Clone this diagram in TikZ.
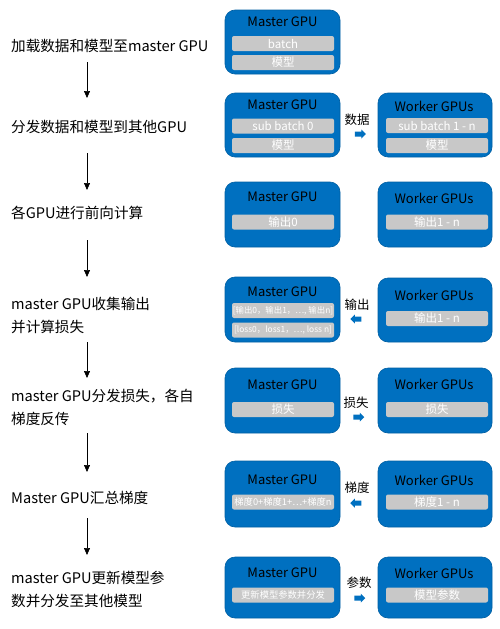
\documentclass[tikz,border=0pt]{standalone}
\usepackage{fontspec}
\setmainfont{Noto Sans CJK SC}
\usetikzlibrary{arrows.meta,shapes.arrows}
\definecolor{blueM}{HTML}{0070C0}
\definecolor{barG}{HTML}{C8C8C8}
\tikzset{
  gpu/.style={draw=blueM!85!black, line width=0.6pt, fill=blueM, rounded corners=10pt, minimum width=115pt, inner sep=0},
  gtitle/.style={font=\fontsize{13}{15}\selectfont, text=black, inner sep=0},
  bar/.style={fill=barG, rounded corners=2pt, minimum width=102pt, minimum height=15pt, text=white, inner sep=0, font=\fontsize{11.5}{13}\selectfont},
  stepbox/.style={anchor=west, inner sep=0, align=left, font=\fontsize{14.6}{23}\selectfont},
  flow/.style={-{Triangle[length=7pt,width=6pt]}, line width=0.7pt, black},
  lbl/.style={font=\fontsize{12.5}{14}\selectfont, inner sep=0},
  barrowR/.style={shape=single arrow, fill=blueM, draw=none, minimum height=11pt, minimum width=9pt, single arrow head extend=2pt, inner xsep=0pt, inner ysep=2.3pt},
  barrowL/.style={barrowR, shape border rotate=180}
}
\begin{document}
\begin{tikzpicture}[x=1pt,y=-1pt]
\useasboundingbox[fill=white] (0,0) rectangle (499,629);
% left steps
\node[stepbox] (s1) at (11,46) {加载数据和模型至master GPU};
\node[stepbox] (s2) at (11,127) {分发数据和模型到其他GPU};
\node[stepbox] (s3) at (11,213) {各GPU进行前向计算};
\node[stepbox] (s4) at (11,315) {master GPU收集输出\\并计算损失};
\node[stepbox] (s5) at (11,407.5) {master GPU分发损失，各自\\梯度反传};
\node[stepbox] (s6) at (11,498) {Master GPU汇总梯度};
\node[stepbox] (s7) at (11,589) {master GPU更新模型参\\数并分发至其他模型};
\coordinate (ax) at (87,0);
\draw[flow] ([yshift=-16pt]s1.center -| ax) -- ([yshift=29pt]s2.center -| ax);
\draw[flow] ([yshift=-26pt]s2.center -| ax) -- ([yshift=23pt]s3.center -| ax);
\draw[flow] ([yshift=-27pt]s3.center -| ax) -- ([yshift=38pt]s4.center -| ax);
\draw[flow] ([yshift=-27pt]s4.center -| ax) -- ([yshift=29.5pt]s5.center -| ax);
\draw[flow] ([yshift=-25.5pt]s5.center -| ax) -- ([yshift=26pt]s6.center -| ax);
\draw[flow] ([yshift=-20pt]s6.center -| ax) -- ([yshift=34pt]s7.center -| ax);

% row 1
\node[gpu, minimum height=64pt] (m1) at (282.5,42) {};
\node[gtitle] (m1t) at (282.5,22) {Master GPU};
\node[bar] (m1a) at (283,43.5) {batch};
\node[bar] (m1b) at (283,62.5) {模型};

% row 2
\node[gpu, minimum height=64pt] (m2) at (282.5,125) {};
\node[gtitle] (m2t) at (282.5,105) {Master GPU};
\node[bar] (m2a) at (283,126) {sub batch 0};
\node[bar] (m2b) at (283,145.5) {模型};
\node[gpu, minimum height=64pt, minimum width=114pt] (w2) at (435,125) {};
\node[gtitle] (w2t) at (434,106) {Worker GPUs};
\node[bar] (w2a) at (437,125.5) {sub batch 1 - n};
\node[bar] (w2b) at (437,145.5) {模型};
\node[lbl] (l2) at (357,120) {数据};
\node[barrowR] (r2) at (359,134) {};

% row 3
\node[gpu, minimum height=65pt] (m3) at (282.5,214.5) {};
\node[gtitle] (m3t) at (282.5,197) {Master GPU};
\node[bar] (m3a) at (283,222) {输出0};
\node[gpu, minimum height=65pt, minimum width=114pt] (w3) at (435,214.5) {};
\node[gtitle] (w3t) at (434,198) {Worker GPUs};
\node[bar] (w3a) at (437,222) {输出1 - n};

% row 4
\node[gpu, minimum height=65pt] (m4) at (282.5,309.5) {};
\node[gtitle] (m4t) at (282.5,292) {Master GPU};
\node[bar, font=\fontsize{8.4}{9}\selectfont] (m4a) at (283,310.5) {[输出0，输出1，…, 输出n]};
\node[bar, font=\fontsize{8.4}{9}\selectfont] (m4b) at (283,330) {[loss0，loss1，…, loss n]};
\node[gpu, minimum height=64pt, minimum width=114pt] (w4) at (435,310) {};
\node[gtitle] (w4t) at (434,295) {Worker GPUs};
\node[bar] (w4a) at (437,318.5) {输出1 - n};
\node[lbl] (l4) at (357,305) {输出};
\node[barrowL] (r4) at (357,319) {};

% row 5
\node[gpu, minimum height=65pt] (m5) at (282.5,400.5) {};
\node[gtitle] (m5t) at (282.5,385) {Master GPU};
\node[bar] (m5a) at (283,409.5) {损失};
\node[gpu, minimum height=65pt, minimum width=114pt] (w5) at (435,400.5) {};
\node[gtitle] (w5t) at (434,384) {Worker GPUs};
\node[bar] (w5a) at (437,409.5) {损失};
\node[lbl] (l5) at (356,403) {损失};
\node[barrowR] (r5) at (357.5,417) {};

% row 6
\node[gpu, minimum height=66pt] (m6) at (282.5,494) {};
\node[gtitle] (m6t) at (282.5,480) {Master GPU};
\node[bar, font=\fontsize{9.3}{10}\selectfont] (m6a) at (283,502) {梯度0+梯度1+…+梯度n};
\node[gpu, minimum height=66pt, minimum width=114pt] (w6) at (435,494) {};
\node[gtitle] (w6t) at (434,480) {Worker GPUs};
\node[bar] (w6a) at (437,502) {梯度1 - n};
\node[lbl] (l6) at (357,488) {梯度};
\node[barrowL] (r6) at (357,503) {};

% row 7
\node[gpu, minimum height=61pt] (m7) at (282.5,587.5) {};
\node[gtitle] (m7t) at (282.5,573) {Master GPU};
\node[bar, font=\fontsize{9.3}{10}\selectfont] (m7a) at (283,595) {更新模型参数并分发};
\node[gpu, minimum height=61pt, minimum width=114pt] (w7) at (435,587.5) {};
\node[gtitle] (w7t) at (434,573) {Worker GPUs};
\node[bar] (w7a) at (437,595) {模型参数};
\node[lbl] (l7) at (359,583) {参数};
\node[barrowR] (r7) at (358.5,598) {};
\end{tikzpicture}
\end{document}
